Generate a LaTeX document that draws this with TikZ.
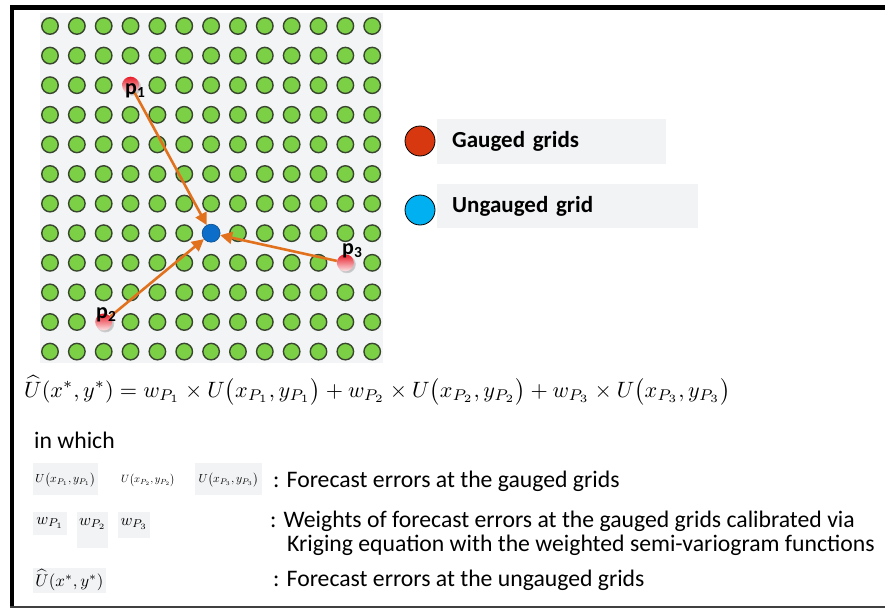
\documentclass[tikz,border=0pt]{standalone}
\usepackage{fontspec}
\setmainfont{Carlito}
\usepackage{amsmath}
\usepackage{graphicx}
\usetikzlibrary{arrows.meta,shadows}
\definecolor{gridbg}{RGB}{243,244,246}
\definecolor{dotgreen}{RGB}{124,208,70}
\definecolor{dotedge}{RGB}{55,70,45}
\definecolor{arroworange}{RGB}{226,113,30}
\definecolor{legred}{RGB}{216,56,16}
\definecolor{legblue}{RGB}{0,176,240}
\definecolor{ugblue}{RGB}{12,110,200}
\definecolor{boxgray}{RGB}{242,243,245}
\definecolor{ptred}{RGB}{232,28,40}
\definecolor{ptpale}{RGB}{252,228,230}
\expandafter\def\csname skip@4@3\endcsname{}
\expandafter\def\csname skip@7@8\endcsname{}
\expandafter\def\csname skip@12@9\endcsname{}
\expandafter\def\csname skip@3@11\endcsname{}
\tikzset{
 gdot/.style={circle, fill=dotgreen, draw=dotedge, line width=1.4pt, minimum size=16.5pt, inner sep=0pt},
 gauged/.style={circle, top color=ptred, bottom color=ptpale, minimum size=17pt, inner sep=0pt,
   circular drop shadow={shadow xshift=1.2pt, shadow yshift=-1.2pt, fill=black!35, opacity=0.6}},
 ungauged/.style={circle, fill=ugblue, draw=ugblue!70!black, line width=0.6pt, minimum size=18pt, inner sep=0pt},
 plabel/.style={anchor=base west, inner sep=0pt, font=\fontsize{22}{24}\selectfont\bfseries},
 flow/.style={draw=arroworange, line width=2.6pt, -{Triangle[length=12pt,width=12pt]}},
 legdot/.style={circle, draw=black, line width=0.8pt, minimum size=30pt, inner sep=0pt},
 legbox/.style={fill=boxgray, anchor=west, inner xsep=15pt, inner ysep=0pt, align=left, font=\fontsize{23}{26}\selectfont\bfseries},
 gbox/.style={fill=boxgray, inner sep=0pt},
 mth/.style={inner sep=0pt},
 txt/.style={anchor=base west, inner sep=0pt, font=\fontsize{23.7}{27}\selectfont},
}
\begin{document}
\begin{tikzpicture}[x=1pt,y=-1pt]
\useasboundingbox (0,0) rectangle (885,610);
\fill[white] (0,0) rectangle (885,610);
% frame
\fill[black] (10,5) rectangle (885,10);
\fill[black] (10,5) rectangle (14,608);
\fill[black!75] (10,606) rectangle (885,608);
% grid background
\fill[gridbg] (40,13) rectangle (383,363);
% grid dots
\foreach \i in {1,...,13}{\foreach \j in {1,...,12}{%
  \ifcsname skip@\i @\j\endcsname\else
   \node[gdot] (g\i-\j) at ({50+26.85*(\i-1)},{26+29.6*(\j-1)}) {};
  \fi}}
% special points
\node[gauged] (p1) at (130.55,85.2) {};
\node[ungauged] (c) at (211.1,233.2) {};
\node[gauged] (p3) at (345.35,262.8) {};
\node[gauged] (p2) at (103.7,322) {};
\draw[flow] (p1) -- (c);
\draw[flow] (p3) -- (c);
\draw[flow] (p2) -- (c);
\node[plabel] (l1) at (125,94) {p\textsubscript{1}};
\node[plabel] (l2) at (96,318) {p\textsubscript{2}};
\node[plabel] (l3) at (342,254) {p\textsubscript{3}};
% legend
\node[legbox, text width=199pt, minimum height=45pt] (lg1) at (437,141) {Gauged grids};
\node[legbox, text width=231pt, minimum height=44pt] (lg2) at (437,206) {Ungauged grid};
\node[legdot, fill=legred] (ld1) at (420,141) {};
\node[legdot, fill=legblue] (ld2) at (420,210) {};
% main formula
\node[anchor=base west, inner sep=0pt] (eq) at (24,397) {\resizebox{706pt}{!}{$\widehat{U}(x^{*},y^{*}) = w_{P_1}\times U\bigl(x_{P_1},y_{P_1}\bigr)+w_{P_2}\times U\bigl(x_{P_2},y_{P_2}\bigr)+w_{P_3}\times U\bigl(x_{P_3},y_{P_3}\bigr)$}};
\node[txt] (iw) at (34,448) {in which};
% symbol boxes
\node[gbox, minimum width=65pt, minimum height=32pt] (bu1) at (65.5,479) {};
\node[gbox, minimum width=67pt, minimum height=32pt] (bu3) at (228.5,479) {};
\node[mth] (u1) at (65.5,480) {\resizebox{60pt}{!}{$U\bigl(x_{P_1},y_{P_1}\bigr)$}};
\node[mth] (u2) at (148,480) {\resizebox{54pt}{!}{$U\bigl(x_{P_2},y_{P_2}\bigr)$}};
\node[mth] (u3) at (228.5,480) {\resizebox{60pt}{!}{$U\bigl(x_{P_3},y_{P_3}\bigr)$}};
\node[gbox, minimum width=34pt, minimum height=23pt] (bw1) at (50,523.5) {};
\node[gbox, minimum width=31pt, minimum height=36pt] (bw2) at (92.5,530) {};
\node[gbox, minimum width=32pt, minimum height=26pt] (bw3) at (134,525) {};
\node[mth] (w1) at (50,523) {\resizebox{27pt}{!}{$w_{P_1}$}};
\node[mth] (w2) at (92.5,524) {\resizebox{27pt}{!}{$w_{P_2}$}};
\node[mth] (w3) at (134,524) {\resizebox{27pt}{!}{$w_{P_3}$}};
\node[gbox, minimum width=73pt, minimum height=25pt] (bh) at (69.5,580.5) {};
\node[mth] (uh) at (69.5,580) {\resizebox{68pt}{!}{$\widehat{U}(x^{*},y^{*})$}};
% descriptions
\node[txt] (t1) at (273,487) {: Forecast errors at the gauged grids};
\node[txt] (t2) at (270,527) {: Weights of forecast errors at the gauged grids calibrated via};
\node[txt] (t3) at (287,551) {Kriging equation with the weighted semi-variogram functions};
\node[txt] (t4) at (273,586) {: Forecast errors at the ungauged grids};
\end{tikzpicture}
\end{document}
